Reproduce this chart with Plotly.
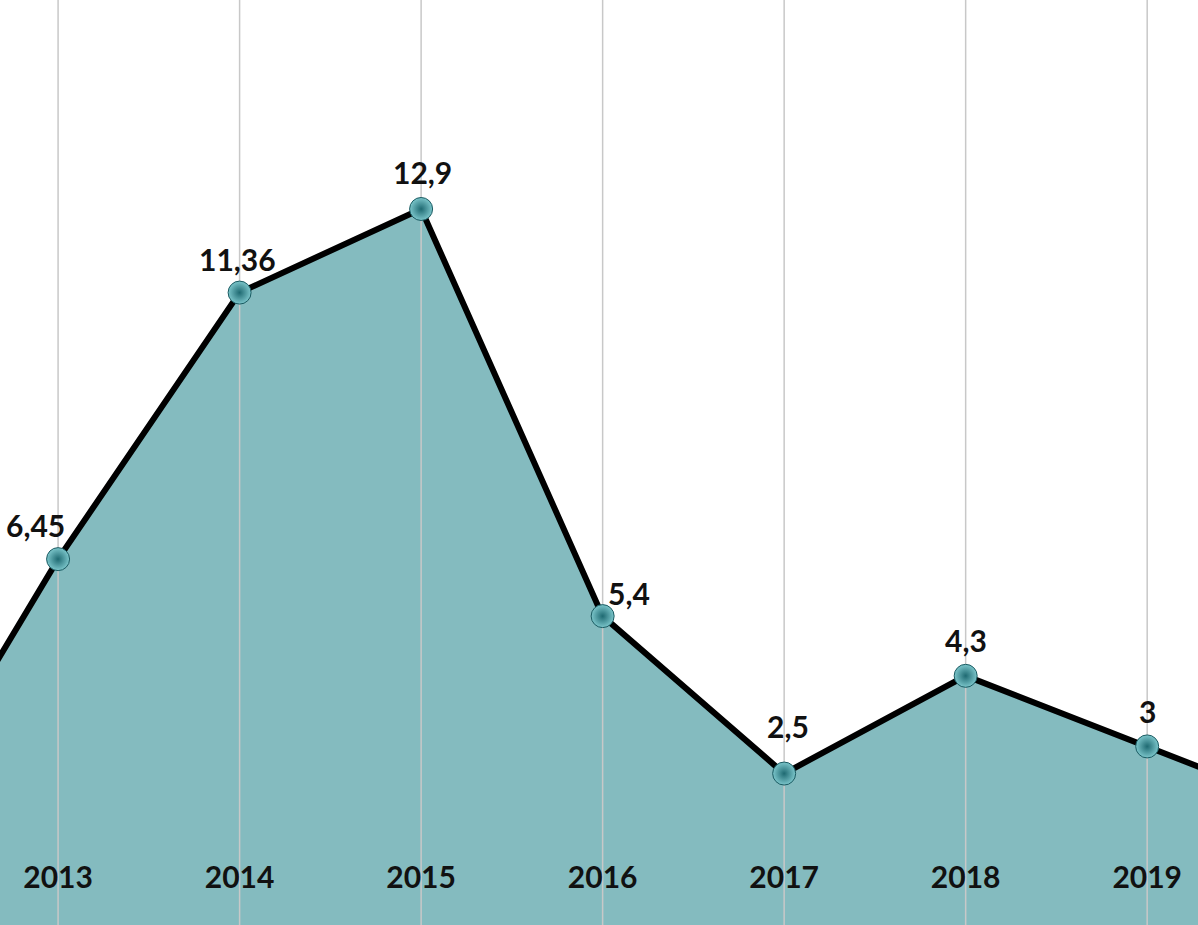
import plotly.graph_objects as go

# data (2012 / 2020 only give the line running off the edges)
years = [2012, 2013, 2014, 2015, 2016, 2017, 2018, 2019, 2020]
values = [0.87, 6.45, 11.36, 12.9, 5.4, 2.5, 4.3, 3, 1.69]
labels = ["", "6,45", "11,36", "12,9", "5,4", "2,5", "4,3", "3", ""]
tick_years = [2013, 2014, 2015, 2016, 2017, 2018, 2019]

# label offsets in pixels (style only)
label_dx = [0, -23, -2, 1, 26, 4, 0, 0, 0]
label_dy = [0, 34, 34, 37, 23, 48, 36, 35, 0]

y_min, y_max = -0.29, 16.75
x_min, x_max = 2012.68, 2019.28

fill_col = "#84BBBF"
font_fam = "Lato"

fig = go.Figure()

# baseline so the fill runs down to the bottom edge
fig.add_trace(go.Scatter(
    x=years, y=[y_min] * len(years),
    mode="lines", line=dict(width=0), hoverinfo="skip", showlegend=False))

fig.add_trace(go.Scatter(
    x=years, y=values,
    mode="lines", line=dict(width=0),
    fill="tonexty", fillcolor=fill_col,
    hoverinfo="skip", showlegend=False))

# vertical grid lines drawn over the fill
gx, gy = [], []
for yr in tick_years:
    gx += [yr, yr, None]
    gy += [y_min, y_max, None]
fig.add_trace(go.Scatter(
    x=gx, y=gy, mode="lines",
    line=dict(color="#c8c8c8", width=1.5),
    hoverinfo="skip", showlegend=False))

fig.add_trace(go.Scatter(
    x=years, y=values,
    mode="lines+markers",
    line=dict(color="black", width=6),
    marker=dict(size=23, color="#7cc6cb",
                gradient=dict(type="radial", color="#1f6a72"),
                line=dict(color="#1a5a61", width=1)),
    hoverinfo="skip", showlegend=False))

for x, y, t, dx, dy in zip(years, values, labels, label_dx, label_dy):
    if not t:
        continue
    fig.add_annotation(
        x=x, y=y, text=t, showarrow=False,
        xshift=dx, yshift=dy,
        font=dict(family=font_fam, size=30, color="#111111", weight="bold"))

fig.update_layout(
    width=1198, height=925,
    margin=dict(l=0, r=0, t=0, b=0),
    paper_bgcolor="white", plot_bgcolor="white",
    hovermode=False,
    xaxis=dict(
        range=[x_min, x_max],
        tickvals=tick_years, ticktext=[str(y) for y in tick_years],
        showgrid=False, zeroline=False, showline=False,
        ticks="inside", ticklen=34, tickcolor="rgba(0,0,0,0)",
        ticklabelposition="inside",
        tickfont=dict(family=font_fam, size=30, color="#111111", weight="bold"),
    ),
    yaxis=dict(range=[y_min, y_max], visible=False),
)

fig.write_html("out.html", config={"displayModeBar": False},
               post_script="document.body.style.margin='0';")
